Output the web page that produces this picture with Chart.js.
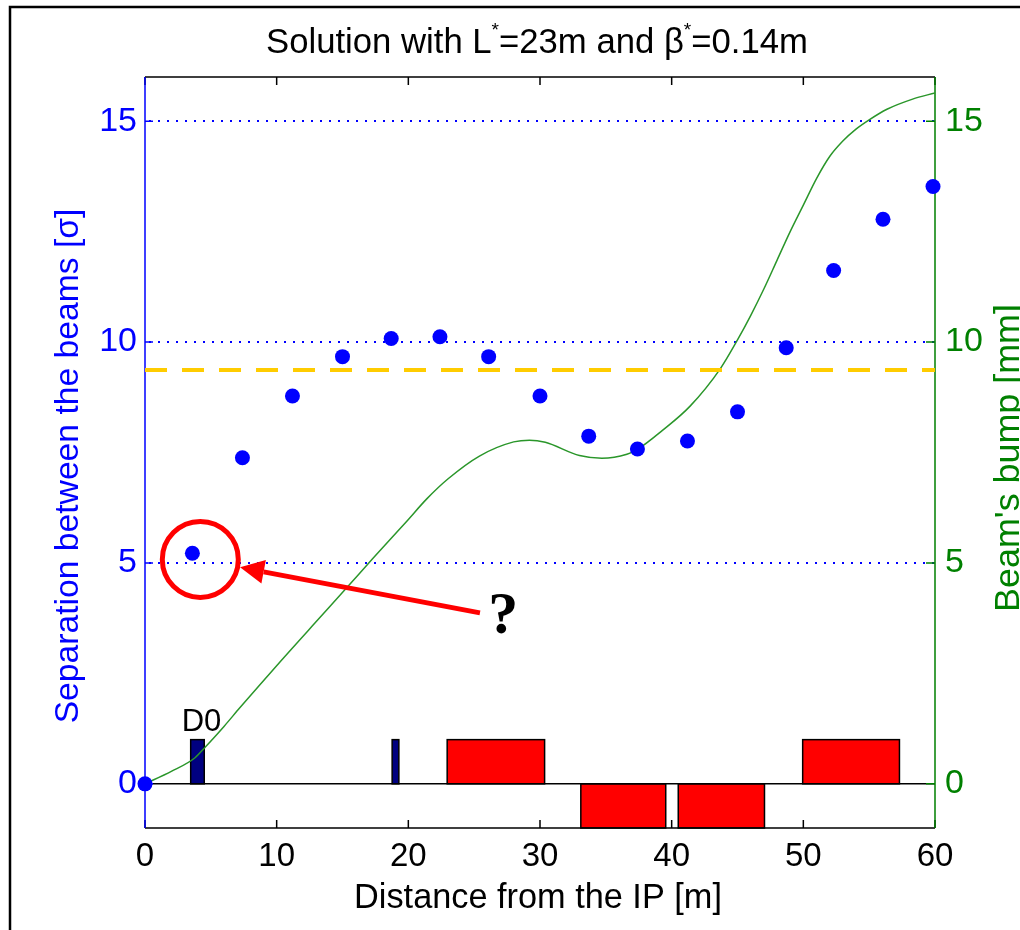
<!DOCTYPE html>
<html>
<head>
<meta charset="utf-8">
<script src="https://cdn.jsdelivr.net/npm/chart.js@4.4.1/dist/chart.umd.min.js"></script>
<style>
  body { margin: 0; background: #fff; }
  #wrap { width: 1020px; height: 930px; }
</style>
</head>
<body>
<div id="wrap"><canvas id="beamChart"></canvas></div>
<script>
// Separation between the beams (blue dots), in sigma
var sepX = [0, 3.6, 7.4, 11.2, 15.0, 18.7, 22.4, 26.1, 30.0, 33.7, 37.4, 41.2, 45.0, 48.7, 52.3, 56.05, 59.85];
var sepY = [0, 5.22, 7.38, 8.78, 9.67, 10.08, 10.12, 9.67, 8.78, 7.87, 7.58, 7.76, 8.42, 9.87, 11.62, 12.78, 13.52];

// Beam's bump (green curve), in mm
var bumpX = [0, 2, 3.8, 4.6, 6, 7.2, 10.25, 13.3, 15.3, 17.3, 19.9, 21.4, 23.0, 25.4, 28, 29.2, 30.4, 33, 34.7, 36.6, 37.4, 39.3, 41.4, 43.7, 45, 46, 47, 48, 49, 50, 51, 52, 53, 54, 55, 56.35, 58.3, 60];
var bumpY = [0, 0.28, 0.59, 0.84, 1.3, 1.72, 2.76, 3.77, 4.43, 5.1, 5.95, 6.45, 6.9, 7.42, 7.74, 7.78, 7.73, 7.43, 7.37, 7.46, 7.57, 8.0, 8.55, 9.4, 10.05, 10.6, 11.2, 11.85, 12.5, 13.1, 13.7, 14.2, 14.55, 14.82, 15.03, 15.27, 15.5, 15.64];

// separation limit (yellow dashed line)
var thresholdY = 9.37;

// magnets along the beam line
var magnetStart = [3.47, 18.77, 22.95, 33.1, 40.5, 49.95];
var magnetEnd = [4.5, 19.28, 30.35, 39.55, 47.05, 57.3];
var magnetSide = [1, 1, 1, -1, -1, 1];
var magnetKind = ['dipole', 'dipole', 'quad', 'quad', 'quad', 'quad'];
var magnetLabel = ['D0', '', '', '', '', ''];

var xTicks = [0, 10, 20, 30, 40, 50, 60];
var yTicks = [0, 5, 10, 15];

// the "?" annotation
var circleAt = [4.2, 5.08];
var arrowFrom = [25.44, 3.87];
var arrowTo = [7.22, 4.9];
var questionAt = [27.2, 3.77];

var FONT = '"Liberation Sans", Arial, Helvetica, sans-serif';
var BLUE = '#0000ff';
var GREEN = '#008000';

function fitSize(ctx, text, width) {
    ctx.font = '100px ' + FONT;
    return 100 * width / ctx.measureText(text).width;
}

function drawRotated(ctx, text, bx, cy, len, color) {
    var size = fitSize(ctx, text, len);
    ctx.save();
    ctx.translate(bx, cy);
    ctx.rotate(-Math.PI / 2);
    ctx.font = size + 'px ' + FONT;
    ctx.fillStyle = color;
    ctx.textAlign = 'center';
    ctx.textBaseline = 'alphabetic';
    ctx.fillText(text, 0, 0);
    ctx.restore();
}

var decor = {
    id: 'decor',
    beforeDatasetsDraw: function (chart) {
        var ctx = chart.ctx, x = chart.scales.x, y = chart.scales.y, a = chart.chartArea;
        ctx.save();

        // dotted grid lines
        ctx.strokeStyle = BLUE;
        ctx.lineWidth = 2;
        ctx.setLineDash([2, 7]);
        yTicks.forEach(function (v) {
            if (v === 0) return;
            var py = Math.round(y.getPixelForValue(v));
            ctx.beginPath(); ctx.moveTo(a.left + 4, py); ctx.lineTo(a.right, py); ctx.stroke();
        });
        ctx.setLineDash([]);

        // magnets
        for (var i = 0; i < magnetStart.length; i++) {
            var x0 = x.getPixelForValue(magnetStart[i]), x1 = x.getPixelForValue(magnetEnd[i]);
            var y0 = y.getPixelForValue(0), y1 = y.getPixelForValue(magnetSide[i]);
            var top = Math.min(y0, y1), h = Math.abs(y1 - y0);
            ctx.fillStyle = magnetKind[i] === 'dipole' ? '#000080' : '#ff0000';
            ctx.fillRect(x0, top, x1 - x0, h);
            ctx.strokeStyle = '#000';
            ctx.lineWidth = 1.5;
            ctx.strokeRect(x0, top, x1 - x0, h);
            if (magnetLabel[i]) {
                ctx.fillStyle = '#000';
                ctx.font = '31px ' + FONT;
                ctx.textAlign = 'center';
                ctx.textBaseline = 'alphabetic';
                ctx.fillText(magnetLabel[i], (x0 + x1) / 2 + 4, top - 9);
            }
        }

        // beam line
        ctx.strokeStyle = '#000';
        ctx.lineWidth = 1.5;
        var pz = y.getPixelForValue(0);
        ctx.beginPath(); ctx.moveTo(a.left, pz); ctx.lineTo(a.right, pz); ctx.stroke();

        // box: top and bottom black, left blue, right green
        ctx.lineWidth = 1.5;
        ctx.strokeStyle = '#000';
        ctx.beginPath();
        ctx.moveTo(a.left, a.top); ctx.lineTo(a.right, a.top);
        ctx.moveTo(a.left, a.bottom); ctx.lineTo(a.right, a.bottom);
        xTicks.forEach(function (v) {
            var px = x.getPixelForValue(v);
            ctx.moveTo(px, a.top); ctx.lineTo(px, a.top + 8);
            ctx.moveTo(px, a.bottom); ctx.lineTo(px, a.bottom - 8);
        });
        ctx.stroke();

        ctx.strokeStyle = BLUE;
        ctx.beginPath();
        ctx.moveTo(a.left, a.top); ctx.lineTo(a.left, a.bottom);
        yTicks.forEach(function (v) {
            var py = y.getPixelForValue(v);
            ctx.moveTo(a.left, py); ctx.lineTo(a.left + 8, py);
        });
        ctx.stroke();

        var y2 = chart.scales.y2;
        ctx.strokeStyle = GREEN;
        ctx.beginPath();
        ctx.moveTo(a.right, a.top); ctx.lineTo(a.right, a.bottom);
        yTicks.forEach(function (v) {
            var py = y2.getPixelForValue(v);
            ctx.moveTo(a.right, py); ctx.lineTo(a.right - 9, py);
        });
        ctx.stroke();

        ctx.restore();
    },
    afterDatasetsDraw: function (chart) {
        var ctx = chart.ctx, x = chart.scales.x, y = chart.scales.y;
        ctx.save();
        ctx.strokeStyle = '#ff0000';
        ctx.fillStyle = '#ff0000';
        ctx.lineWidth = 5;

        // circle round the first point
        ctx.beginPath();
        ctx.arc(x.getPixelForValue(circleAt[0]), y.getPixelForValue(circleAt[1]), 38, 0, Math.PI * 2);
        ctx.stroke();

        // arrow
        var tx = x.getPixelForValue(arrowFrom[0]), ty = y.getPixelForValue(arrowFrom[1]);
        var hx = x.getPixelForValue(arrowTo[0]), hy = y.getPixelForValue(arrowTo[1]);
        var ang = Math.atan2(hy - ty, hx - tx);
        var headLen = 24, headW = 12;
        var bx = hx - headLen * Math.cos(ang), by = hy - headLen * Math.sin(ang);
        ctx.beginPath(); ctx.moveTo(tx, ty); ctx.lineTo(bx, by); ctx.stroke();
        ctx.beginPath();
        ctx.moveTo(hx, hy);
        ctx.lineTo(bx + headW * Math.sin(ang), by - headW * Math.cos(ang));
        ctx.lineTo(bx - headW * Math.sin(ang), by + headW * Math.cos(ang));
        ctx.closePath();
        ctx.fill();

        // question mark
        ctx.fillStyle = '#000';
        ctx.font = 'bold 60px "Liberation Serif", "DejaVu Serif", serif';
        ctx.textAlign = 'center';
        ctx.textBaseline = 'middle';
        ctx.fillText('?', x.getPixelForValue(questionAt[0]), y.getPixelForValue(questionAt[1]));
        ctx.restore();
    },
    afterDraw: function (chart) {
        var ctx = chart.ctx;
        ctx.save();

        // title with superscript asterisks
        var parts = [['Solution with L', 0], ['*', 1], ['=23m and \u03b2', 0], ['*', 1], ['=0.14m', 0]];
        var total = 0;
        parts.forEach(function (p) {
            ctx.font = (p[1] ? 55 : 100) + 'px ' + FONT;
            total += ctx.measureText(p[0]).width;
        });
        var size = 100 * 542 / total;
        var cx = 537 - 542 / 2, base = 53;
        ctx.fillStyle = '#000';
        ctx.textAlign = 'left';
        ctx.textBaseline = 'alphabetic';
        parts.forEach(function (p) {
            var s = p[1] ? size * 0.55 : size;
            ctx.font = s + 'px ' + FONT;
            ctx.fillText(p[0], cx, p[1] ? base - size * 0.5 : base);
            cx += ctx.measureText(p[0]).width;
        });

        // axis titles
        var xs = fitSize(ctx, 'Distance from the IP [m]', 368);
        ctx.font = xs + 'px ' + FONT;
        ctx.textAlign = 'center';
        ctx.fillText('Distance from the IP [m]', 538, 908);
        drawRotated(ctx, 'Separation between the beams [\u03c3]', 78, 466, 515, BLUE);
        drawRotated(ctx, "Beam's bump [mm]", 1019, 458, 308, GREEN);

        // figure frame
        ctx.strokeStyle = '#000';
        ctx.lineWidth = 2.5;
        ctx.beginPath();
        ctx.moveTo(1020, 7); ctx.lineTo(10, 7); ctx.lineTo(10, 930);
        ctx.stroke();
        ctx.restore();
    }
};

function toPoints(xs, ys) {
    return xs.map(function (v, i) { return { x: v, y: ys[i] }; });
}

function setTicks(scale) {
    scale.ticks = yTicks.map(function (v) { return { value: v }; });
}

new Chart(document.getElementById('beamChart'), {
    type: 'scatter',
    data: {
        datasets: [{
            label: 'Separation between the beams',
            data: toPoints(sepX, sepY),
            yAxisID: 'y',
            pointRadius: 7.5,
            pointBackgroundColor: BLUE,
            pointBorderWidth: 0,
            showLine: false,
            clip: false
        }, {
            label: 'Limit',
            data: [{ x: 0, y: thresholdY }, { x: 60, y: thresholdY }],
            yAxisID: 'y',
            showLine: true,
            borderColor: '#ffcc00',
            borderWidth: 4,
            borderDash: [22, 15],
            pointRadius: 0
        }, {
            label: "Beam's bump",
            data: toPoints(bumpX, bumpY),
            yAxisID: 'y2',
            showLine: true,
            borderColor: '#2a962a',
            borderWidth: 1.5,
            pointRadius: 0,
            cubicInterpolationMode: 'monotone'
        }]
    },
    options: {
        responsive: true,
        maintainAspectRatio: false,
        animation: false,
        layout: { padding: { top: 77, left: 0, right: 0, bottom: 0 } },
        plugins: { legend: { display: false }, tooltip: { enabled: false } },
        scales: {
            x: {
                type: 'linear',
                position: 'bottom',
                min: 0,
                max: 60,
                ticks: { stepSize: 10, color: '#000', font: { size: 33, family: FONT }, padding: 9, maxRotation: 0 },
                grid: { display: false, drawTicks: false },
                border: { display: false },
                afterFit: function (s) { s.height = 102; }
            },
            y: {
                type: 'linear',
                position: 'left',
                min: -1,
                max: 16,
                afterBuildTicks: setTicks,
                ticks: { color: BLUE, font: { size: 34, family: FONT }, padding: 8 },
                grid: { display: false, drawTicks: false },
                border: { display: false },
                afterFit: function (s) { s.width = 145; }
            },
            y2: {
                type: 'linear',
                position: 'right',
                min: -1,
                max: 16,
                afterBuildTicks: setTicks,
                ticks: { color: GREEN, font: { size: 34, family: FONT }, padding: 10 },
                grid: { display: false, drawTicks: false },
                border: { display: false },
                afterFit: function (s) { s.width = 85; }
            }
        }
    },
    plugins: [decor]
});
</script>
</body>
</html>
